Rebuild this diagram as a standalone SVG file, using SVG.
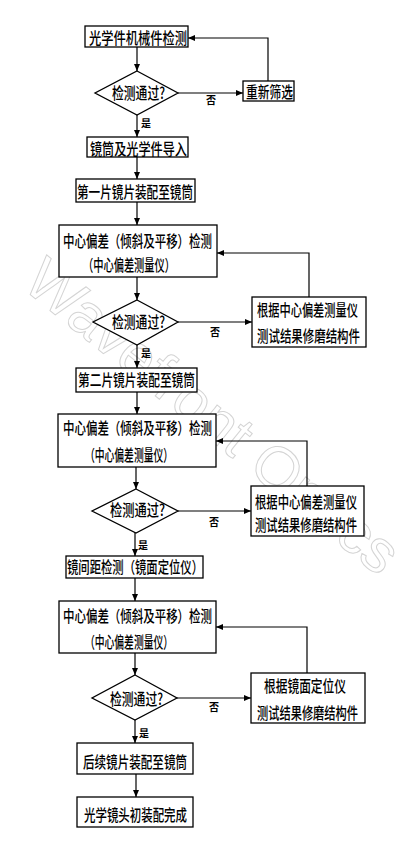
<svg xmlns="http://www.w3.org/2000/svg" width="412" height="841" viewBox="0 0 412 841">
<defs>
<style>
.bx{fill:#fff;stroke:#000;stroke-width:1.3}
.ln{fill:none;stroke:#000;stroke-width:1.2}
.t{font-family:"Noto Sans CJK SC","Noto Sans CJK TC",sans-serif;font-size:16px;font-weight:500;fill:#000;text-anchor:start}
.s{font-family:"Noto Sans CJK SC",sans-serif;font-size:10px;font-weight:bold;fill:#000}
.wm{font-family:"Liberation Sans",Arial,sans-serif;font-size:60px;fill:none;stroke:#d4d4d4;stroke-width:1}
</style>
<marker id="ah" markerWidth="8" markerHeight="8" refX="7" refY="4" orient="auto" markerUnits="userSpaceOnUse"><path d="M0,1 L7,4 L0,7 Z" fill="#000"/></marker>
</defs>
<rect width="412" height="841" fill="#fff"/>
<text class="wm" x="200" y="432" text-anchor="middle" transform="rotate(39 200 432)" textLength="462" lengthAdjust="spacingAndGlyphs">Wavefront Optics</text>

<g id="connectors">
<path class="ln" d="M137,47 V71" marker-end="url(#ah)"/>
<path class="ln" d="M178,93 H243" marker-end="url(#ah)"/>
<path class="ln" d="M268,81 V38 H188" marker-end="url(#ah)"/>
<path class="ln" d="M137,115 V137" marker-end="url(#ah)"/>
<path class="ln" d="M137,157 V179" marker-end="url(#ah)"/>
<path class="ln" d="M137,202 V225" marker-end="url(#ah)"/>
<path class="ln" d="M137,277 V300" marker-end="url(#ah)"/>
<path class="ln" d="M178,322 H252" marker-end="url(#ah)"/>
<path class="ln" d="M309,297 V253 H217" marker-end="url(#ah)"/>
<path class="ln" d="M137,345 V368" marker-end="url(#ah)"/>
<path class="ln" d="M137,392 V414" marker-end="url(#ah)"/>
<path class="ln" d="M136,467 V489" marker-end="url(#ah)"/>
<path class="ln" d="M178,511 H251" marker-end="url(#ah)"/>
<path class="ln" d="M307,486 V441 H216" marker-end="url(#ah)"/>
<path class="ln" d="M135,533 V556" marker-end="url(#ah)"/>
<path class="ln" d="M135,578 V601" marker-end="url(#ah)"/>
<path class="ln" d="M135,653 V675" marker-end="url(#ah)"/>
<path class="ln" d="M177,698 H251" marker-end="url(#ah)"/>
<path class="ln" d="M307,673 V627 H216" marker-end="url(#ah)"/>
<path class="ln" d="M135,720 V743" marker-end="url(#ah)"/>
<path class="ln" d="M136,774 V797" marker-end="url(#ah)"/>
<text class="s" x="206" y="104">否</text>
<text class="s" x="141" y="127">是</text>
<text class="s" x="210" y="336">否</text>
<text class="s" x="141" y="357">是</text>
<text class="s" x="209" y="526">否</text>
<text class="s" x="138" y="549">是</text>
<text class="s" x="209" y="711">否</text>
<text class="s" x="139" y="737">是</text>
</g>

<g id="n1"><rect class="bx" x="85" y="26" width="103" height="21"/><text class="t" x="89" y="44" textLength="98" lengthAdjust="spacingAndGlyphs">光学件机械件检测</text></g>
<g id="d1"><polygon class="bx" points="137,71 178,93 137,115 95,93"/><text class="t" x="112" y="99" textLength="53" lengthAdjust="spacingAndGlyphs">检测通过?</text></g>
<g id="n2"><rect class="bx" x="243" y="81" width="51" height="20"/><text class="t" x="246" y="98" textLength="47" lengthAdjust="spacingAndGlyphs">重新筛选</text></g>
<g id="n3"><rect class="bx" x="87" y="137" width="101" height="20"/><text class="t" x="90" y="155" textLength="97" lengthAdjust="spacingAndGlyphs">镜筒及光学件导入</text></g>
<g id="n4"><rect class="bx" x="76" y="179" width="119" height="23"/><text class="t" x="77" y="198" textLength="116" lengthAdjust="spacingAndGlyphs">第一片镜片装配至镜筒</text></g>
<g id="n5"><rect class="bx" x="59" y="225" width="158" height="52"/><text class="t" x="63" y="247" textLength="149" lengthAdjust="spacingAndGlyphs">中心偏差（倾斜及平移）检测</text><text class="t" x="83" y="271" textLength="92" lengthAdjust="spacingAndGlyphs">（中心偏差测量仪）</text></g>
<g id="d2"><polygon class="bx" points="137,300 178,322 137,345 93,322"/><text class="t" x="112" y="328" textLength="53" lengthAdjust="spacingAndGlyphs">检测通过?</text></g>
<g id="n6"><rect class="bx" x="252" y="297" width="114" height="50"/><text class="t" x="257" y="316" textLength="101" lengthAdjust="spacingAndGlyphs">根据中心偏差测量仪</text><text class="t" x="257" y="342" textLength="103" lengthAdjust="spacingAndGlyphs">测试结果修磨结构件</text></g>
<g id="n7"><rect class="bx" x="76" y="368" width="121" height="24"/><text class="t" x="78" y="386" textLength="117" lengthAdjust="spacingAndGlyphs">第二片镜片装配至镜筒</text></g>
<g id="n8"><rect class="bx" x="58" y="414" width="158" height="53"/><text class="t" x="63" y="434" textLength="149" lengthAdjust="spacingAndGlyphs">中心偏差（倾斜及平移）检测</text><text class="t" x="85" y="461" textLength="88" lengthAdjust="spacingAndGlyphs">（中心偏差测量仪）</text></g>
<g id="d3"><polygon class="bx" points="136,489 178,511 136,533 92,511"/><text class="t" x="110" y="516" textLength="55" lengthAdjust="spacingAndGlyphs">检测通过?</text></g>
<g id="n9"><rect class="bx" x="251" y="486" width="113" height="50"/><text class="t" x="255" y="508" textLength="102" lengthAdjust="spacingAndGlyphs">根据中心偏差测量仪</text><text class="t" x="255" y="531" textLength="102" lengthAdjust="spacingAndGlyphs">测试结果修磨结构件</text></g>
<g id="n10"><rect class="bx" x="66" y="556" width="137" height="22"/><text class="t" x="67" y="573" textLength="136" lengthAdjust="spacingAndGlyphs">镜间距检测（镜面定位仪）</text></g>
<g id="n11"><rect class="bx" x="59" y="601" width="157" height="52"/><text class="t" x="63" y="622" textLength="149" lengthAdjust="spacingAndGlyphs">中心偏差（倾斜及平移）检测</text><text class="t" x="85" y="648" textLength="88" lengthAdjust="spacingAndGlyphs">（中心偏差测量仪）</text></g>
<g id="d4"><polygon class="bx" points="135,675 177,698 135,720 92,698"/><text class="t" x="110" y="705" textLength="53" lengthAdjust="spacingAndGlyphs">检测通过?</text></g>
<g id="n12"><rect class="bx" x="251" y="673" width="114" height="50"/><text class="t" x="264" y="692" textLength="82" lengthAdjust="spacingAndGlyphs">根据镜面定位仪</text><text class="t" x="257" y="719" textLength="101" lengthAdjust="spacingAndGlyphs">测试结果修磨结构件</text></g>
<g id="n13"><rect class="bx" x="77" y="743" width="116" height="31"/><text class="t" x="83" y="768" textLength="104" lengthAdjust="spacingAndGlyphs">后续镜片装配至镜筒</text></g>
<g id="n14"><rect class="bx" x="77" y="797" width="116" height="30"/><text class="t" x="84" y="821" textLength="103" lengthAdjust="spacingAndGlyphs">光学镜头初装配完成</text></g>
</svg>
